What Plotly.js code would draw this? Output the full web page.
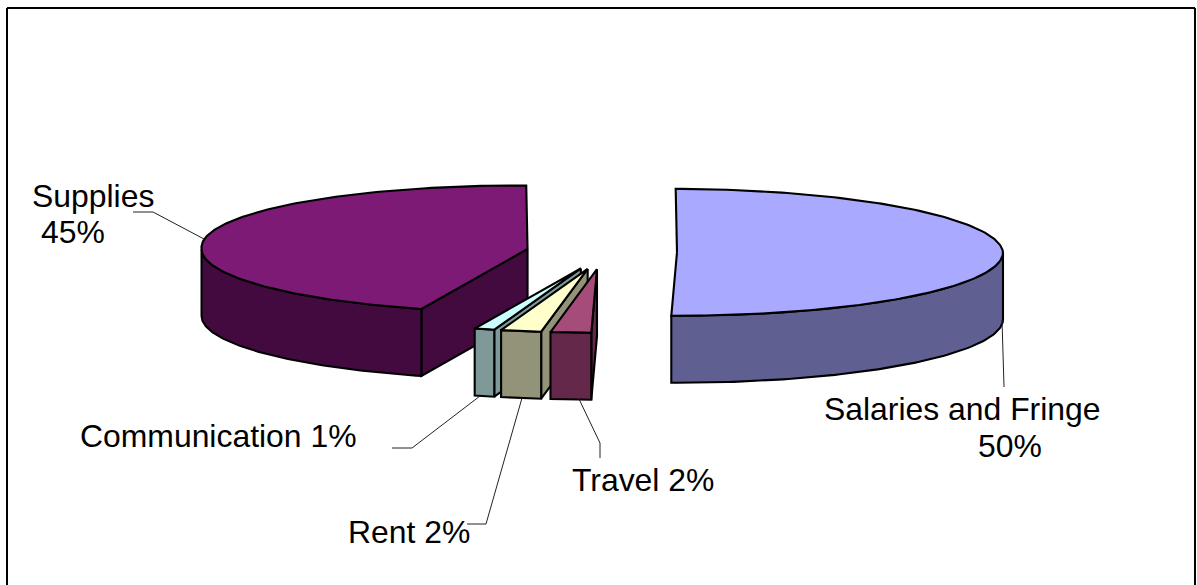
<!DOCTYPE html>
<html>
<head>
<meta charset="utf-8">
<script src="https://cdn.plot.ly/plotly-3.0.1.min.js"></script>
<style>html,body{margin:0;padding:0;background:#fff;overflow:hidden}#chart{width:1197px;height:585px}</style>
</head>
<body>
<div id="chart"></div>
<script>
// Expense shares, clockwise from twelve o'clock
const categories = ['Salaries and Fringe', 'Travel', 'Rent', 'Communication', 'Supplies'];
const values = [50, 2, 2, 1, 45];
const topColors = ['#A9A9FF', '#A64C7A', '#FFFFCC', '#CCFFFF', '#7C1A75'];
const sideColors = ['#5F5F92', '#63284A', '#93937A', '#7F9999', '#420A3E'];
const pulls = [0.227, 0.23, 0.23, 0.23, 0.235];
const drawOrder = [0, 4, 3, 2, 1];

// Projected pie geometry, in the pixel-sized units of the hidden axes
const pie = {cx: 603, cy: 252, rx: 326, ry: 63.5, depth: 67, pullTilt: 0.23, firstAngle: 1, lean: 7};
const total = values.reduce((a, b) => a + b, 0);
const rad = d => d * Math.PI / 180;

function slicePoint(c, deg) {
  const t = rad(deg);
  return [c[0] + pie.rx * Math.sin(t) - pie.lean * Math.max(0, Math.cos(t)), c[1] - pie.ry * Math.cos(t)];
}

function arc(c, from, to) {
  const pts = [];
  const n = Math.max(2, Math.ceil(Math.abs(to - from)));
  for (let i = 0; i <= n; i++) pts.push(slicePoint(c, from + (to - from) * i / n));
  return pts;
}

function polygon(pts, fill) {
  const closed = pts.concat([pts[0]]);
  return {
    type: 'scatter', mode: 'lines', x: closed.map(p => p[0]), y: closed.map(p => p[1]),
    fill: 'toself', fillcolor: fill, line: {color: '#000', width: 2.1, shape: 'linear'},
    hoverinfo: 'skip', showlegend: false
  };
}

// Angular extent and pulled-out centre of every slice
let running = pie.firstAngle;
const slices = values.map((v, i) => {
  const start = running;
  const end = start + v / total * 360;
  running = end;
  const mid = rad((start + end) / 2);
  const d = pulls[i] * pie.rx;
  return {start, end, centre: [pie.cx + d * Math.sin(mid), pie.cy - d * pie.pullTilt * Math.cos(mid)]};
});

const down = p => [p[0], p[1] + pie.depth];
const traces = [];
drawOrder.forEach(i => {
  const s = slices[i];
  // cut face on the clockwise-leading edge, seen only when it turns toward the viewer
  if (s.start >= 180 && s.start < 270) {
    const a = s.centre, b = slicePoint(s.centre, s.start);
    traces.push(polygon([a, b, down(b), down(a)], sideColors[i]));
  }
  // outer wall over the front half of the rim
  const wallFrom = Math.max(s.start, 90), wallTo = Math.min(s.end, 270);
  if (wallTo > wallFrom) {
    const rim = arc(s.centre, wallFrom, wallTo);
    traces.push(polygon(rim.concat(rim.slice().reverse().map(down)), sideColors[i]));
  }
  traces.push(polygon([s.centre].concat(arc(s.centre, s.start, s.end)), topColors[i]));
});

// Leader lines run from each slice to its label
const leaderColor = '#222';
const leaders = [
  [[133, 212], [153, 212], [204, 239]],
  [[1002, 320], [1004, 387]],
  [[392, 448], [412, 448], [480, 396]],
  [[467, 524], [486, 524], [522, 398]],
  [[579, 399], [600, 443], [600, 458]]
];
leaders.forEach(l => traces.push({
  type: 'scatter', mode: 'lines', x: l.map(p => p[0]), y: l.map(p => p[1]),
  line: {color: leaderColor, width: 1}, hoverinfo: 'skip', showlegend: false
}));

const pct = i => values[i] + '%';
const font = {family: '"Liberation Sans", Arial, sans-serif', size: 31.9, color: '#000'};
const label = (text, x, y) => ({
  text, x, y, xref: 'x', yref: 'y', xanchor: 'left', yanchor: 'middle',
  showarrow: false, font, borderpad: 0
});
const annotations = [
  label(categories[4], 31, 196),
  label(pct(4), 40, 232),
  label(categories[0], 823, 409),
  label(pct(0), 977, 446),
  label(categories[3] + ' ' + pct(3), 79, 436),
  label(categories[2] + ' ' + pct(2), 347, 532),
  label(categories[1] + ' ' + pct(1), 571, 480)
];

// Chart frame, open at the bottom edge
const frame = [[7, 8, 1195, 8], [7, 8, 7, 585], [1195, 8, 1195, 585]].map(f => ({
  type: 'line', xref: 'x', yref: 'y', x0: f[0], y0: f[1], x1: f[2], y1: f[3],
  line: {color: '#000', width: 2}
}));

const hidden = {visible: false, fixedrange: true};
Plotly.newPlot('chart', traces, {
  width: 1197, height: 585, margin: {l: 0, r: 0, t: 0, b: 0},
  paper_bgcolor: '#fff', plot_bgcolor: '#fff', showlegend: false,
  xaxis: Object.assign({range: [0, 1197]}, hidden),
  yaxis: Object.assign({range: [585, 0]}, hidden),
  annotations, shapes: frame
}, {displayModeBar: false, staticPlot: true});
</script>
</body>
</html>
